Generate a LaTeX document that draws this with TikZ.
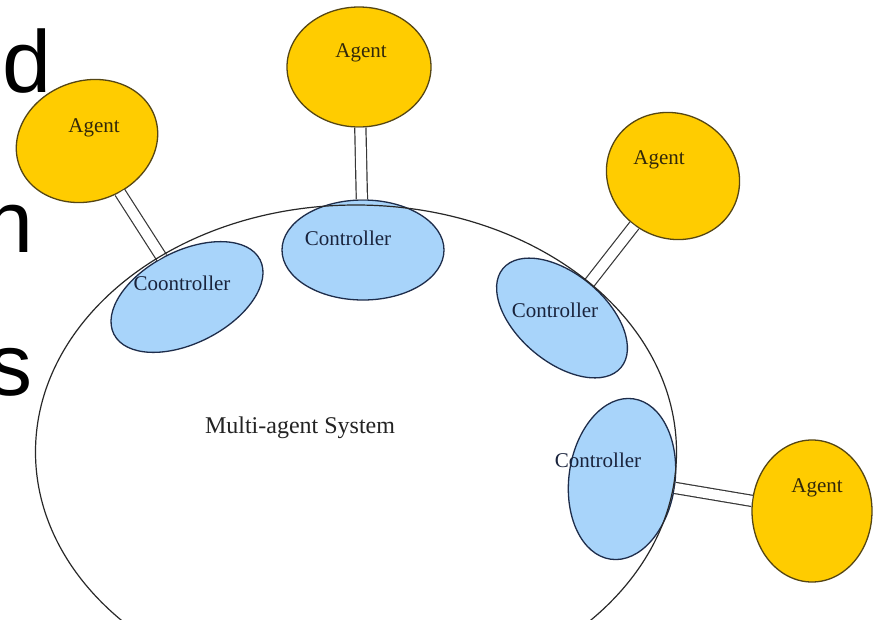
\documentclass[tikz,border=0pt]{standalone}
\usepackage{fontspec}
\setmainfont{Liberation Serif}
\newfontfamily\slidefont{Liberation Sans}
\usetikzlibrary{shapes.geometric}
\definecolor{agentfill}{RGB}{255,204,0}
\definecolor{agentline}{RGB}{85,70,20}
\definecolor{agenttext}{RGB}{50,40,10}
\definecolor{ctrlfill}{RGB}{168,212,250}
\definecolor{ctrlline}{RGB}{30,45,75}
\definecolor{ctrltext}{RGB}{25,35,60}
\definecolor{sysline}{RGB}{40,40,40}
\definecolor{systext}{RGB}{35,35,35}
\definecolor{linkline}{RGB}{55,55,55}

\begin{document}
\begin{tikzpicture}[x=1pt,y=-1pt,
  agent/.style={ellipse, draw=agentline, fill=agentfill, line width=1.3pt, inner sep=0pt},
  ctrl/.style={ellipse, draw=ctrlline, fill=ctrlfill, line width=1.3pt, inner sep=0pt},
  agentlbl/.style={inner sep=0pt, text=agenttext, font=\fontsize{21}{21}\selectfont},
  ctrllbl/.style={inner sep=0pt, text=ctrltext, font=\fontsize{21}{21}\selectfont},
  link/.style={draw=linkline, line width=1.2pt, double=white, double distance=10pt},
  slide/.style={inner sep=0pt, anchor=base east, font=\slidefont\fontsize{88}{88}\selectfont}]

\useasboundingbox[fill=white] (0,0) rectangle (876,619);

% letters of the slide text running off the left edge
\node[slide] (ld) at (52,92) {d};
\node[slide] (ln) at (34,252) {n};
\node[slide] (ls) at (33,395) {s};

% controllers
\node[ctrl, minimum width=164, minimum height=92, rotate=27] (C1) at (187,297) {};
\node[ctrl, minimum width=162, minimum height=100] (C2) at (363,250) {};
\node[ctrl, minimum width=154, minimum height=88, rotate=-40] (C3) at (562,318) {};
\node[ctrl, minimum width=106, minimum height=162, rotate=-8] (C4) at (622,479) {};

% agents
\node[agent, minimum width=144, minimum height=120, rotate=20] (A1) at (87,141) {};
\node[agent, minimum width=144, minimum height=120] (A2) at (359,67) {};
\node[agent, minimum width=136, minimum height=124, rotate=-30] (A3) at (673,176) {};
\node[agent, minimum width=120, minimum height=142] (A4) at (812,511) {};

% agent--controller links
\draw[link] (A1) -- (C1);
\draw[link] (A2) -- (C2);
\draw[link] (A3) -- (C3);
\draw[link] (C4) -- (A4);

% the system boundary
\node[ellipse, draw=sysline, line width=1.2pt, inner sep=0pt,
      minimum width=641, minimum height=494] (MAS) at (356,452) {};

% labels
\node[agentlbl] (A1t) at (94,128) {Agent};
\node[agentlbl] (A2t) at (361,53) {Agent};
\node[agentlbl] (A3t) at (659,160) {Agent};
\node[agentlbl] (A4t) at (817,488) {Agent};
\node[ctrllbl] (C1t) at (182,283) {Coontroller};
\node[ctrllbl] (C2t) at (348,238) {Controller};
\node[ctrllbl] (C3t) at (555,310) {Controller};
\node[ctrllbl] (C4t) at (598,460) {Controller};
\node[inner sep=0pt, text=systext, font=\fontsize{24}{24}\selectfont] (MASt) at (300,428) {Multi-agent System};
\end{tikzpicture}
\end{document}
